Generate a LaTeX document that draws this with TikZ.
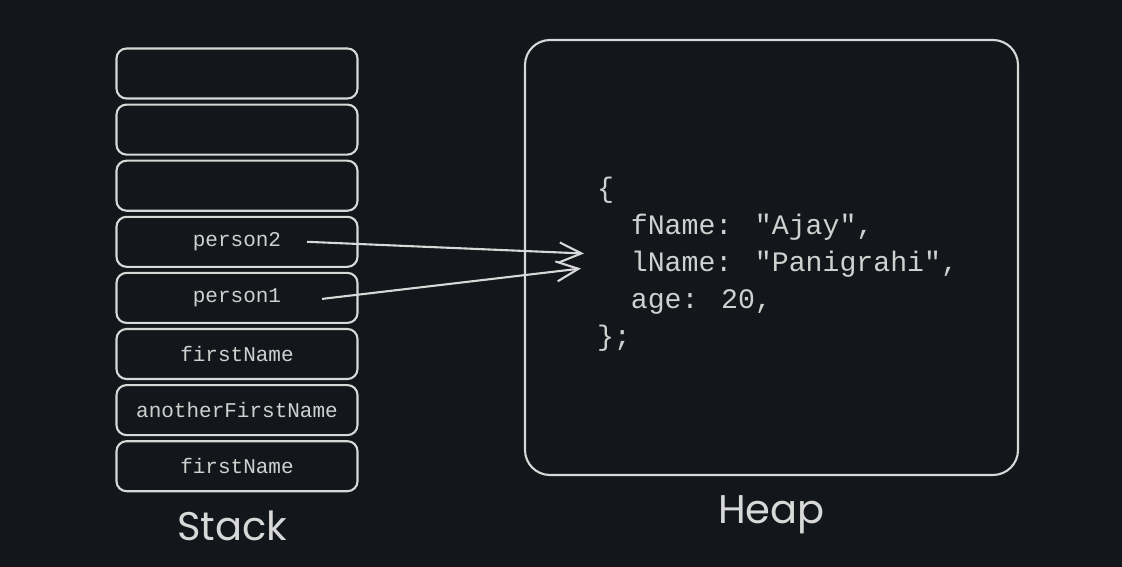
\documentclass[tikz,border=0pt]{standalone}
\usepackage{fontspec}
\usepackage{tikz}
\usetikzlibrary{arrows.meta,calc,positioning}
\newfontfamily\codefont{Liberation Mono}
\newfontfamily\handfont{Poppins}
\definecolor{bgdark}{RGB}{19,22,26}
\definecolor{chalk}{RGB}{216,216,216}
\definecolor{chalktext}{RGB}{208,208,208}

\begin{document}
\begin{tikzpicture}[x=1pt,y=-1pt,>={Straight Barb[length=22pt,width=20pt]},
line width=2.1pt,node distance=4pt,draw=chalk,text=chalktext]
\tikzstyle{slot}=[draw=chalk,rounded corners=10pt,minimum width=241pt,minimum height=50pt,
inner sep=0pt,font=\codefont\fontsize{21}{24}\selectfont]
\tikzstyle{title}=[text=chalk,font=\handfont\fontsize{40}{48}\selectfont]

\fill[bgdark] (0,0) rectangle (1122,567);
\useasboundingbox (0,0) rectangle (1122,567);

% stack
\node[slot] (s1) at (237,73.5) {};
\node[slot] (s2) [below=of s1] {};
\node[slot] (s3) [below=of s2] {};
\node[slot] (s4) [below=of s3] {person2};
\node[slot] (s5) [below=of s4] {person1};
\node[slot] (s6) [below=of s5] {firstName};
\node[slot] (s7) [below=of s6] {anotherFirstName};
\node[slot] (s8) [below=of s7] {firstName};
\node[title] (stacklbl) [below=14pt of s8, xshift=-5pt] {Stack};

% heap
\node[draw=chalk,rounded corners=25pt,minimum width=493pt,minimum height=435pt] (heap) at (771.5,257.5) {};
\node[align=left,inner sep=0pt,font=\codefont\fontsize{28.2}{37}\selectfont]
  (code) [right=72pt of heap.west, yshift=-7pt]
  {\{\\
   \phantom{xx}fName: "Ajay",\\
   \phantom{xx}lName: "Panigrahi",\\
   \phantom{xx}age: 20,\\
   \};};
\node[title] (heaplbl) [below=15pt of heap] {Heap};

\coordinate (tip2) at ($(code.west)+(-12,-11)$);
\coordinate (tip1) at ($(code.west)+(-15,4)$);
\draw[->,chalk] ($(s4.center)+(70,0)$) -- (tip2);
\draw[->,chalk] ($(s5.center)+(85,1)$) -- (tip1);
\end{tikzpicture}
\end{document}
